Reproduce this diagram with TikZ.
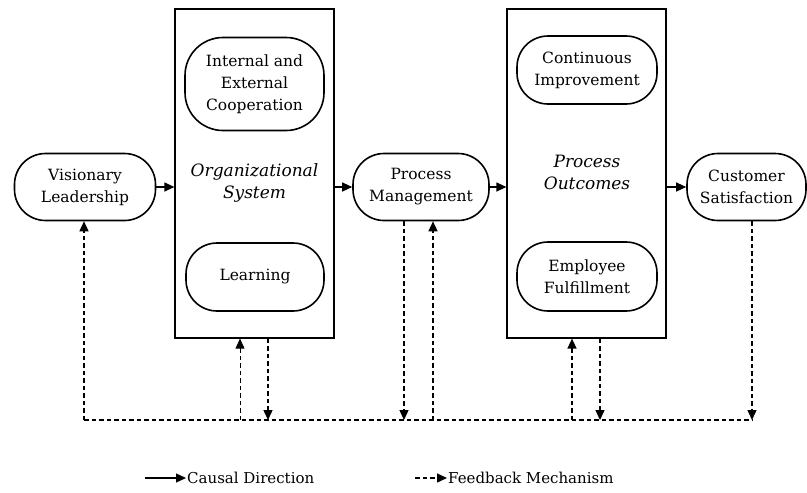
\documentclass[tikz,border=0pt]{standalone}
\usepackage{fontspec}
\setmainfont{DejaVu Serif}
\usetikzlibrary{arrows.meta}
\begin{document}
\begin{tikzpicture}[x=1pt,y=-1pt,
  rbox/.style={draw, line width=1.6pt, rounded corners=31pt, align=center,
    font=\fontsize{15.5}{22}\selectfont, inner sep=0pt},
  bigbox/.style={draw, line width=1.2pt, minimum width=159pt, minimum height=329pt, inner sep=0pt},
  boxlabel/.style={align=center, font=\fontsize{17}{22}\selectfont\itshape},
  causal/.style={line width=1.2pt, -{Triangle[length=10pt,width=9pt]}},
  fb/.style={line width=1.4pt, dash pattern=on 4.5pt off 3pt, -{Triangle[length=10pt,width=9pt]}},
  fbline/.style={line width=1.4pt, dash pattern=on 4.5pt off 3pt},
  legend/.style={anchor=west, font=\fontsize{15}{17}\selectfont, inner sep=1pt}
]
\useasboundingbox (0,0) rectangle (807,493);

% big boxes
\node[bigbox] (org) at (254.5,173.5) {};
\node[bigbox] (po) at (586.5,173.5) {};

% rounded nodes
\node[rbox, minimum width=141pt, minimum height=67pt] (vl) at (85,187) {Visionary\\Leadership};
\node[rbox, minimum width=139pt, minimum height=93pt, rounded corners=38pt] (iec) at (254.5,84) {Internal and\\External\\Cooperation};
\node[boxlabel] (orgl) at (254.5,183) {Organizational\\System};
\node[rbox, minimum width=138pt, minimum height=68pt] (learn) at (255,277) {Learning};
\node[rbox, minimum width=136pt, minimum height=67pt] (pm) at (421,187) {Process\\Management};
\node[rbox, minimum width=140pt, minimum height=68pt] (ci) at (587,70) {Continuous\\Improvement};
\node[boxlabel] (pol) at (587,172) {Process\\Outcomes};
\node[rbox, minimum width=140pt, minimum height=69pt] (ef) at (587,276.5) {Employee\\Fulfillment};
\node[rbox, minimum width=119pt, minimum height=67pt] (cs) at (746.5,187) {Customer\\Satisfaction};

% causal arrows
\draw[causal] (vl.east) -- (vl.east -| org.west);
\draw[causal] (org.east |- pm.west) -- (pm.west);
\draw[causal] (pm.east) -- (pm.east -| po.west);
\draw[causal] (po.east |- cs.west) -- (cs.west);

% feedback
\coordinate (bL) at (84,420);
\coordinate (bR) at (752,420);
\coordinate (b1) at (240,420);
\coordinate (b2) at (268,420);
\coordinate (b3) at (404,420);
\coordinate (b4) at (433,420);
\coordinate (b5) at (572,420);
\coordinate (b6) at (600,420);

\draw[fbline] (bL) -- (bR);
\draw[fb] (bL) -- (bL |- vl.south);
\draw[fb, line width=0.8pt] (b1) -- (b1 |- org.south);
\draw[fb] (b2 |- org.south) -- (b2);
\draw[fb] (b3 |- pm.south) -- (b3);
\draw[fb] (b4) -- (b4 |- pm.south);
\draw[fb] (b5) -- (b5 |- po.south);
\draw[fb] (b6 |- po.south) -- (b6);
\draw[fb] (bR |- cs.south) -- (bR);

% legend
\coordinate (l1) at (145,478);
\node[legend] (lc) at (186,478) {Causal Direction};
\draw[causal] (l1) -- (lc.west);
\coordinate (l2) at (415,478);
\node[legend] (lf) at (447,478) {Feedback Mechanism};
\draw[fb] (l2) -- (lf.west);
\end{tikzpicture}
\end{document}
